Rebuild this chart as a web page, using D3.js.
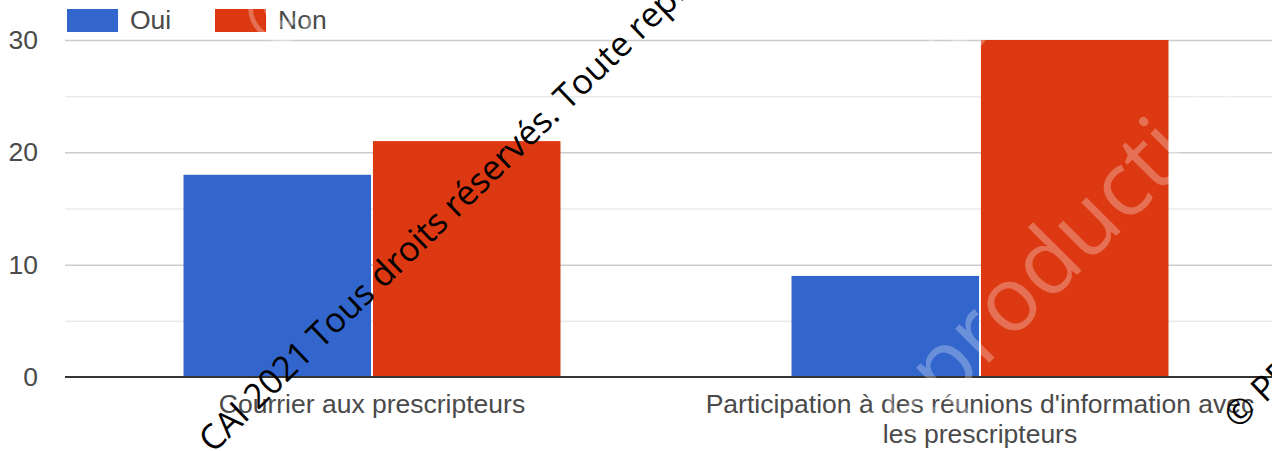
<!DOCTYPE html>
<html>
<head>
<meta charset="utf-8">
<script src="https://cdn.jsdelivr.net/npm/d3@7"></script>
<style>
  body { margin: 0; background: #fff; }
  svg { display: block; }
  text { font-family: "Liberation Sans", Arial, sans-serif; }
  .lbl { fill: #4a4a4a; font-size: 26.5px; }
  .wm-black { font-family: "Open Sans", sans-serif; fill: #000; font-size: 34.5px; }
  .wm-white { font-family: "Open Sans", sans-serif; fill: #fff; fill-opacity: 0.28; font-size: 90px; }
</style>
</head>
<body>
<svg width="1272" height="451"></svg>
<script>
'use strict';

const categories = ['Courrier aux prescripteurs', "Participation à des réunions d'information avec les prescripteurs"];
const seriesNames = ['Oui', 'Non'];
const ouiValues = [18, 9];
const nonValues = [21, 30];
const majorTicks = [0, 10, 20, 30];
const minorTicks = [5, 15, 25];
const colors = ['#3366cc', '#dc3912'];

(function (d3) {

  const svg = d3.select('svg');

  const plotLeft = 65, plotRight = 1284, plotTop = 40, plotBottom = 377;

  const data = categories.map((c, i) => ({ cat: c, values: [ouiValues[i], nonValues[i]] }));

  const x0 = d3.scaleBand()
    .domain(categories)
    .range([68, plotRight])
    .paddingInner(0.38)
    .paddingOuter(0.19);

  const x1 = d3.scaleBand()
    .domain(seriesNames)
    .range([0, x0.bandwidth()])
    .paddingInner(0.01);

  const y = d3.scaleLinear()
    .domain([0, 30])
    .range([plotBottom, plotTop]);

  // gridlines
  const minorG = svg.append('g')
    .attr('transform', `translate(${plotLeft},0)`)
    .call(d3.axisLeft(y).tickValues(minorTicks).tickSize(-(plotRight - plotLeft)).tickFormat(''));
  minorG.select('.domain').remove();
  minorG.selectAll('line').attr('stroke', '#ebebeb').attr('stroke-width', 1.5);

  const majorG = svg.append('g')
    .attr('transform', `translate(${plotLeft},0)`)
    .call(d3.axisLeft(y).tickValues(majorTicks.slice(1)).tickSize(-(plotRight - plotLeft)).tickFormat(''));
  majorG.select('.domain').remove();
  majorG.selectAll('line').attr('stroke', '#cccccc').attr('stroke-width', 1.5);

  // y labels
  const yAxisG = svg.append('g')
    .attr('transform', 'translate(38,0)')
    .call(d3.axisLeft(y).tickValues(majorTicks).tickSize(0).tickPadding(0));
  yAxisG.select('.domain').remove();
  yAxisG.attr('font-size', null).attr('font-family', null);
  yAxisG.selectAll('text').attr('class', 'lbl').attr('fill', null);

  // bars
  const groups = svg.selectAll('g.group').data(data)
    .enter().append('g')
      .attr('class', 'group')
      .attr('transform', d => `translate(${x0(d.cat)},0)`);

  groups.selectAll('rect')
    .data(d => d.values.map((v, i) => ({ key: seriesNames[i], value: v, i })))
    .enter().append('rect')
      .attr('x', d => x1(d.key))
      .attr('y', d => y(d.value))
      .attr('width', x1.bandwidth())
      .attr('height', d => y(0) - y(d.value))
      .attr('fill', d => colors[d.i]);

  // baseline
  svg.append('line')
    .attr('x1', plotLeft).attr('x2', plotRight)
    .attr('y1', y(0)).attr('y2', y(0))
    .attr('stroke', '#333').attr('stroke-width', 2);

  // category labels, wrapped
  const maxW = 570;
  categories.forEach(c => {
    const cx = x0(c) + x0.bandwidth() / 2;
    const t = svg.append('text')
      .attr('class', 'lbl')
      .attr('text-anchor', 'middle')
      .attr('x', cx)
      .attr('y', 413);
    let line = [];
    let tspan = t.append('tspan').attr('x', cx).attr('dy', 0);
    c.split(' ').forEach(w => {
      line.push(w);
      tspan.text(line.join(' '));
      if (tspan.node().getComputedTextLength() > maxW && line.length > 1) {
        line.pop();
        tspan.text(line.join(' '));
        line = [w];
        tspan = t.append('tspan').attr('x', cx).attr('dy', 30).text(w);
      }
    });
  });

  // legend
  const legendX = [67, 215];
  seriesNames.forEach((s, i) => {
    svg.append('rect')
      .attr('x', legendX[i]).attr('y', 9)
      .attr('width', 51).attr('height', 23)
      .attr('fill', colors[i]);
    svg.append('text')
      .attr('class', 'lbl')
      .attr('x', legendX[i] + 63).attr('y', 29)
      .text(s);
  });

  // watermarks
  svg.append('text').attr('class', 'wm-white')
    .attr('transform', 'translate(883,469) rotate(-45)')
    .text('reproduction interdite');
  svg.append('text').attr('class', 'wm-white')
    .attr('transform', 'translate(953,73) rotate(-45)')
    .text('©');
  svg.append('text').attr('class', 'wm-white')
    .attr('transform', 'translate(278,58) rotate(-45)')
    .text('©');

  svg.append('text').attr('class', 'wm-black')
    .attr('transform', 'translate(213,454) rotate(-44)')
    .text('CAI 2021 Tous droits réservés. Toute reproduction interdite');
  svg.append('text').attr('class', 'wm-black')
    .attr('transform', 'translate(1238,430) rotate(-44)')
    .text('© PRÉCAI 2021');

}(d3));
</script>
</body>
</html>
